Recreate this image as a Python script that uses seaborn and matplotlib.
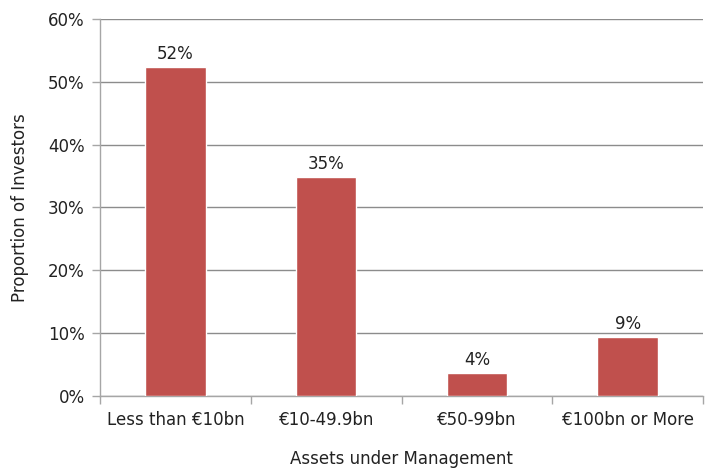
import matplotlib
matplotlib.use("Agg")
import matplotlib.pyplot as plt
import seaborn as sns
import pandas as pd
from matplotlib.ticker import FuncFormatter, FixedLocator

categories = ["Less than €10bn", "€10-49.9bn", "€50-99bn", "€100bn or More"]
proportions = [0.524, 0.348, 0.037, 0.094]
y_ticks = [0.0, 0.1, 0.2, 0.3, 0.4, 0.5, 0.6]

sns.set_theme(style="white")
plt.rcParams["font.family"] = ["DejaVu Sans"]

df = pd.DataFrame({"aum": categories, "share": proportions})

fig = plt.figure(figsize=(7.15, 4.69), dpi=100)
ax = fig.add_axes([100 / 715, 73 / 469, 603 / 715, 377 / 469])

bar_color = "#C0504D"
text_color = "#222222"
sns.barplot(data=df, x="aum", y="share", color=bar_color, width=0.4,
            saturation=1, ax=ax, zorder=3)

ax.set_ylim(0, 0.6)
ax.set_xlim(-0.5, len(categories) - 0.5)
ax.yaxis.set_major_locator(FixedLocator(y_ticks))
ax.yaxis.set_major_formatter(FuncFormatter(lambda v, _: f"{v * 100:.0f}%"))
ax.grid(axis="y", color="#8c8c8c", linewidth=1.0, zorder=0)
ax.set_axisbelow(True)

for side in ("top", "right"):
    ax.spines[side].set_visible(False)
for side in ("left", "bottom"):
    ax.spines[side].set_color("#a6a6a6")
    ax.spines[side].set_linewidth(1.0)

# category separators on the x axis
ax.set_xticks([i - 0.5 for i in range(len(categories) + 1)], minor=True)
ax.tick_params(axis="x", which="major", length=0, pad=11, labelsize=12,
               labelcolor=text_color)
ax.tick_params(axis="x", which="minor", length=6, width=1.0, color="#a6a6a6",
               direction="out", bottom=True)
ax.tick_params(axis="y", which="major", length=6, width=1.0, color="#a6a6a6",
               direction="out", left=True, pad=5, labelsize=12,
               labelcolor=text_color)

for container in ax.containers:
    ax.bar_label(container, labels=[f"{v * 100:.0f}%" for v in proportions],
                 padding=3, fontsize=12, color=text_color)

ax.set_xlabel("Assets under Management", fontsize=12, color=text_color,
              labelpad=15)
ax.set_ylabel("Proportion of Investors", fontsize=12, color=text_color,
              labelpad=14)

fig.savefig("out.png", dpi=100)
